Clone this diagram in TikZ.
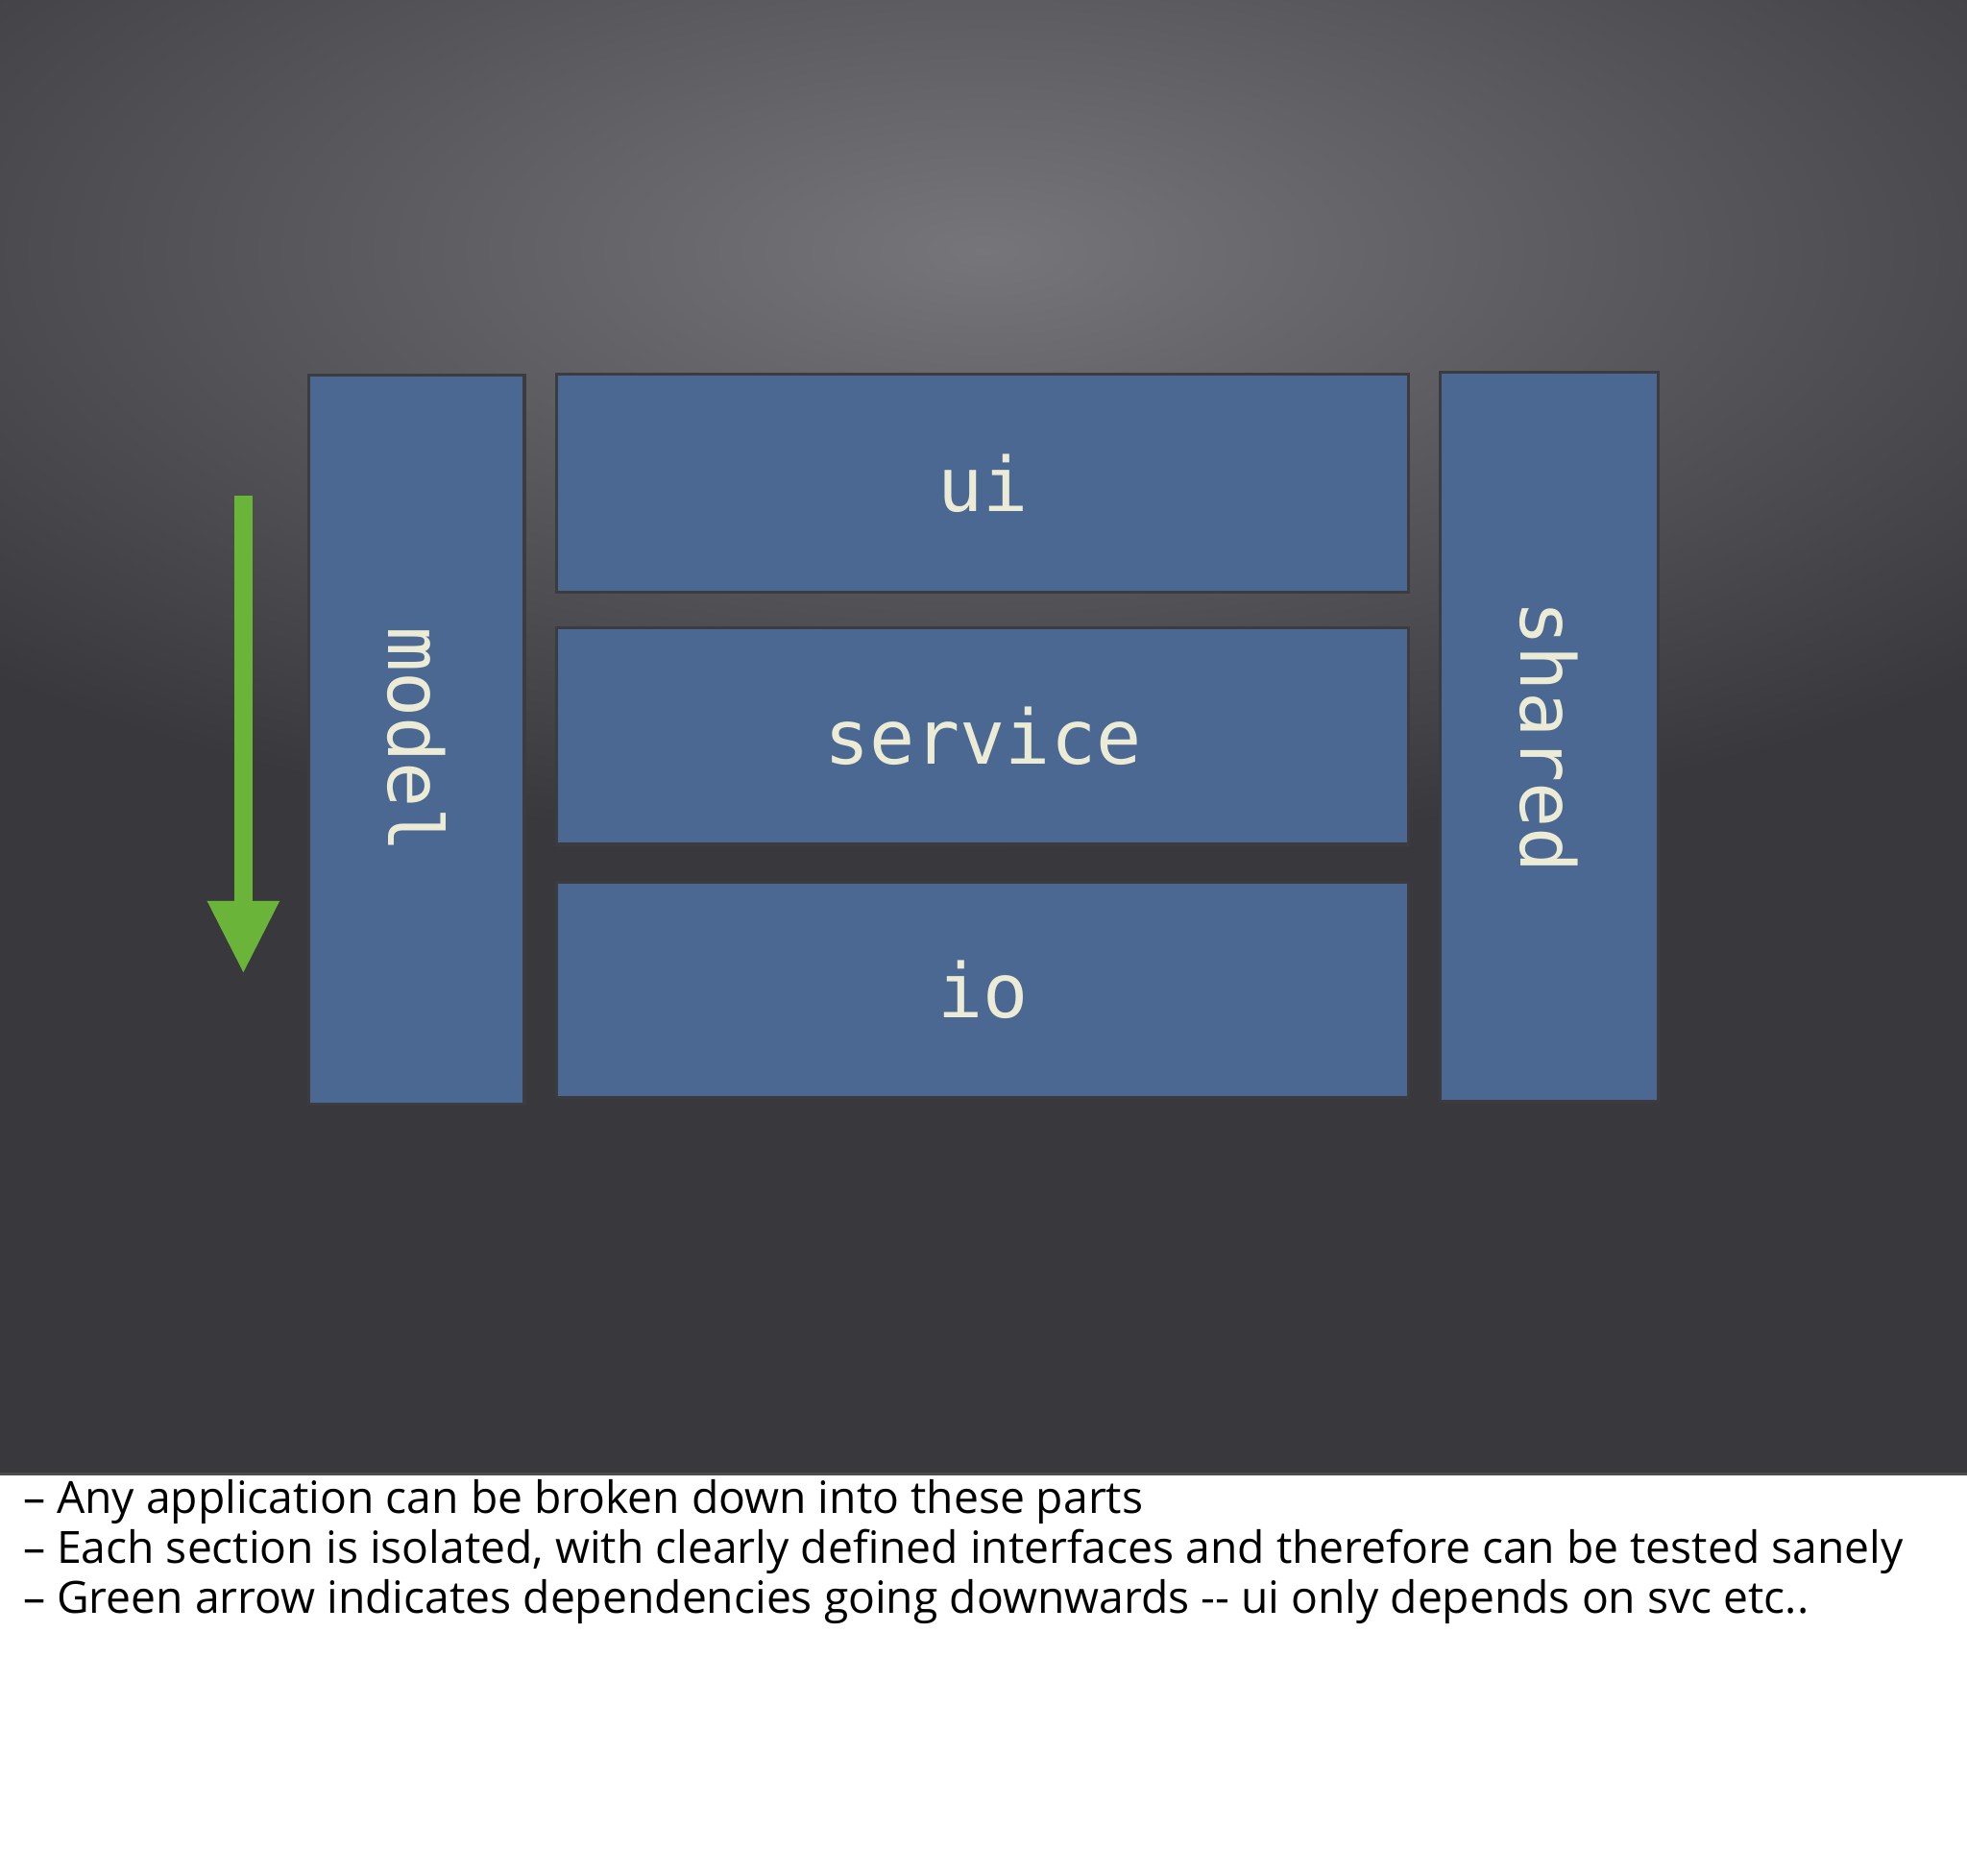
\documentclass[tikz,border=0pt]{standalone}
\usepackage{fontspec}
\setmainfont{Open Sans}
\newfontfamily\monof{DejaVu Sans Mono}
\definecolor{bgc}{RGB}{56,56,61}
\definecolor{hic}{RGB}{118,118,122}
\definecolor{boxc}{RGB}{74,104,146}
\definecolor{edgec}{RGB}{60,60,64}
\definecolor{txtc}{RGB}{236,236,214}
\definecolor{arrc}{RGB}{106,180,58}
\begin{document}
\begin{tikzpicture}[x=0.5pt,y=-0.5pt,
  layer/.style={draw=edgec,line width=1.2pt,fill=boxc,inner sep=0pt},
  lbl/.style={text=txtc,font=\monof\fontsize{30pt}{30pt}\selectfont},
  captext/.style={anchor=west,font=\fontsize{17.7pt}{20pt}\selectfont,inner sep=0pt}]
\useasboundingbox (0,0) rectangle (1568,1494.5);
\fill[white] (0,0) rectangle (1568,1494.5);
\fill[bgc] (0,0) rectangle (1568,1175);
\begin{scope}
\clip (0,0) rectangle (1568,1175);
\shade[inner color=hic,outer color=bgc] (784,200) ellipse [x radius=560pt,y radius=240pt];
\end{scope}
\draw[black!70,line width=1pt] (0,1175) -- (1568,1175);
\node[layer,minimum width=86pt,minimum height=290.5pt] (model) at (332,589.5) {};
\node[layer,minimum width=339.5pt,minimum height=87pt] (ui) at (783.5,385) {};
\node[layer,minimum width=339.5pt,minimum height=86.5pt] (service) at (783.5,586.5) {};
\node[layer,minimum width=339.5pt,minimum height=86pt] (io) at (783.5,789) {};
\node[layer,minimum width=87pt,minimum height=290.5pt] (shared) at (1235,587.5) {};
\node[lbl] at (ui) {ui};
\node[lbl] at (service) {service};
\node[lbl] at (io) {io};
\node[lbl,rotate=-90] at (model) {model};
\node[lbl,rotate=-90] at (shared) {shared};
\fill[arrc] (187,395) rectangle (201,722);
\fill[arrc] (165,718) -- (223,718) -- (194,775) -- cycle;
\node[captext] (c1) at (18,1197) {– Any application can be broken down into these parts};
\node[captext] (c2) at (18,1237) {– Each section is isolated, with clearly defined interfaces and therefore can be tested sanely};
\node[captext] (c3) at (18,1277) {– Green arrow indicates dependencies going downwards -{}- ui only depends on svc etc..};
\end{tikzpicture}
\end{document}
